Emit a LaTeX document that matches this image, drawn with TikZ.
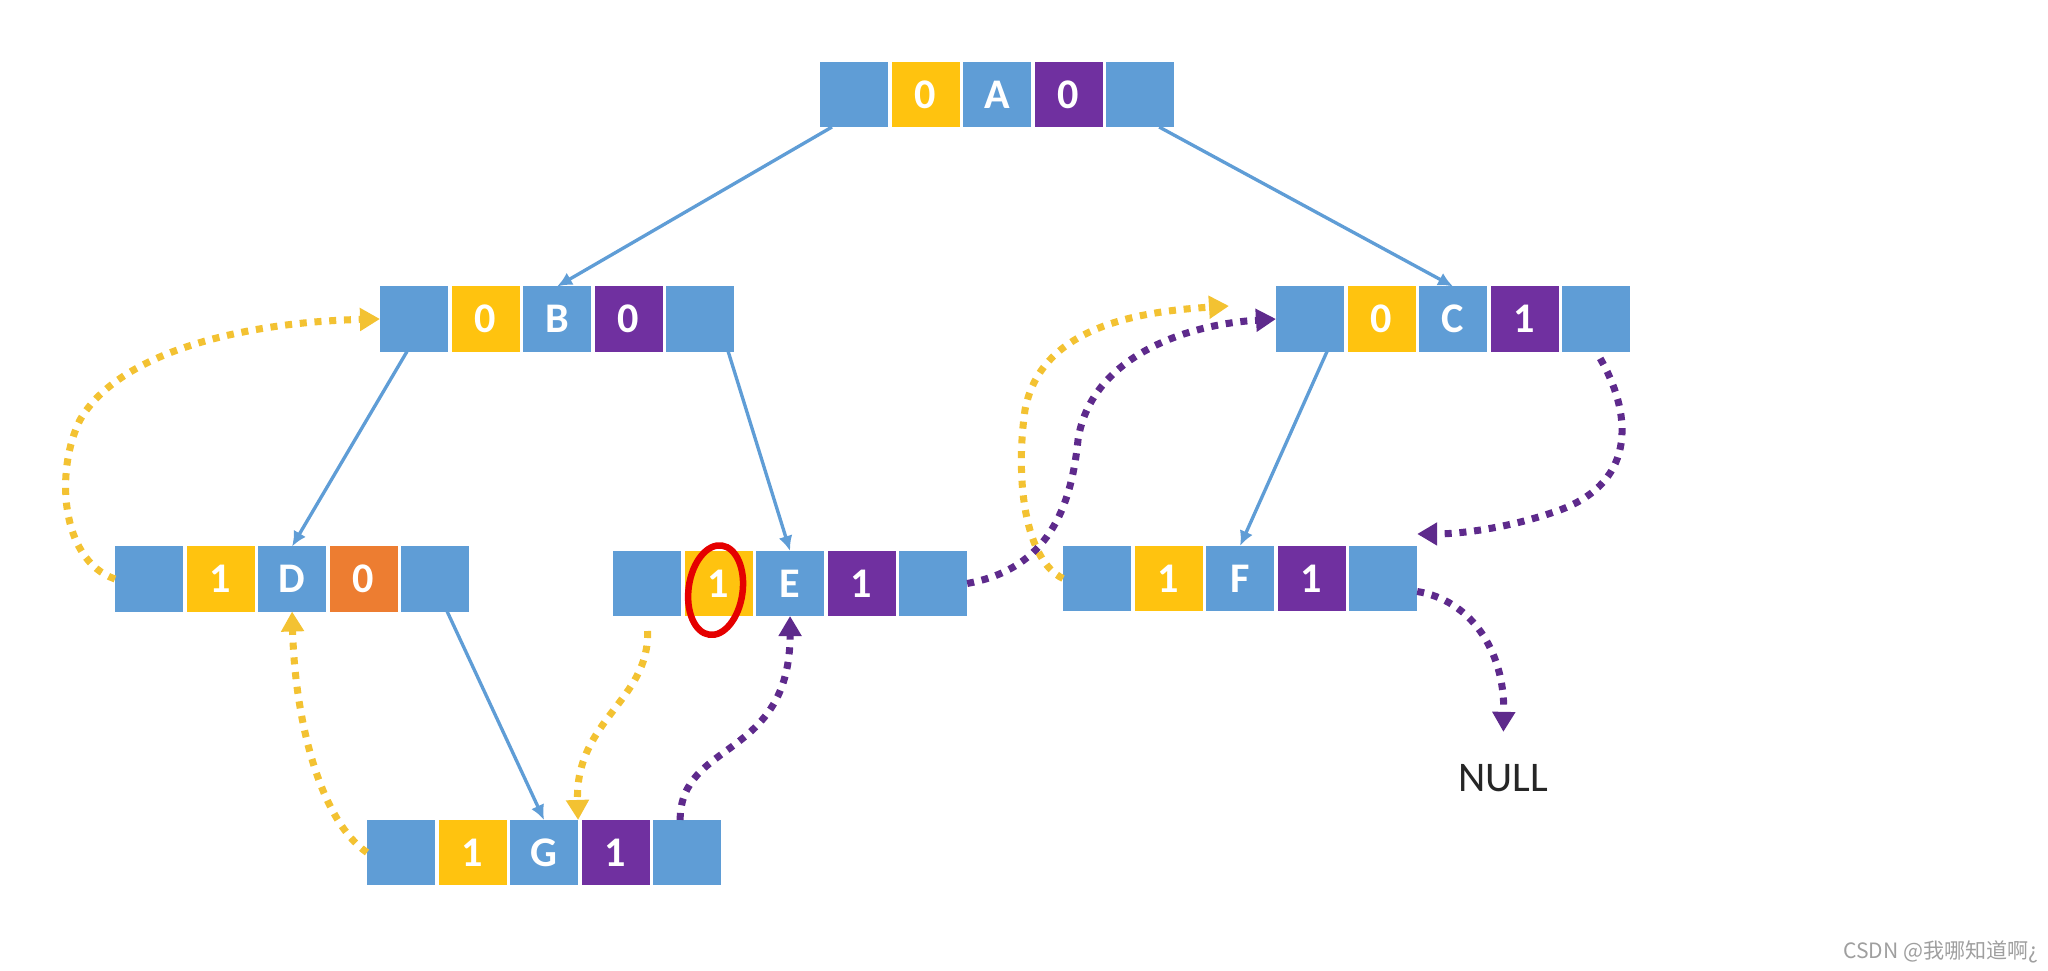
\documentclass[tikz,border=0pt]{standalone}
\usepackage{fontspec}
\setmainfont{Carlito}
\newfontfamily\cjkfont{Noto Sans CJK SC}
\usepackage{tikz}
\usetikzlibrary{arrows.meta, positioning, calc}

\definecolor{cellblue}{HTML}{5F9DD6}
\definecolor{tagyellow}{HTML}{FFC30F}
\definecolor{tagpurple}{HTML}{7030A0}
\definecolor{tagorange}{HTML}{ED7D31}
\definecolor{dotyellow}{HTML}{F3C232}
\definecolor{dotpurple}{HTML}{5E2A8C}

\begin{document}
\begin{tikzpicture}[x=0.01cm,y=-0.01cm,node distance=0.035cm]

	\tikzset{cell/.style={rectangle, minimum width=0.68cm, minimum height=0.65cm,
			inner sep=0, outer sep=0, text=white, font=\bfseries\fontsize{12}{14}\selectfont}}
	\tikzset{cell ptr/.style={cell, fill=cellblue}}
	\tikzset{cell yel/.style={cell, fill=tagyellow}}
	\tikzset{cell pur/.style={cell, fill=tagpurple}}
	\tikzset{cell org/.style={cell, fill=tagorange}}
	\tikzset{tree edge/.style={draw=cellblue, line width=0.95pt,
			-{Latex[length=0.15cm,width=0.14cm]}}}
	\tikzset{thread/.style={line width=2pt, dash pattern=on 2pt off 2.2pt,
			-{Triangle[length=0.2cm,width=0.22cm]}}}
	\tikzset{pred/.style={thread, draw=dotyellow}}
	\tikzset{succ/.style={thread, draw=dotpurple}}

	\useasboundingbox (0,0) rectangle (2048,971);

	% node A
	\node[cell ptr] (A1) at (854,94.5) {};
	\node[cell yel, right=of A1] (A2) {0};
	\node[cell ptr, right=of A2] (A3) {A};
	\node[cell pur, right=of A3] (A4) {0};
	\node[cell ptr, right=of A4] (A5) {};

	% node B
	\node[cell ptr] (B1) at (414,319) {};
	\node[cell yel, right=of B1] (B2) {0};
	\node[cell ptr, right=of B2] (B3) {B};
	\node[cell pur, right=of B3] (B4) {0};
	\node[cell ptr, right=of B4] (B5) {};

	% node C
	\node[cell ptr] (C1) at (1310,319) {};
	\node[cell yel, right=of C1] (C2) {0};
	\node[cell ptr, right=of C2] (C3) {C};
	\node[cell pur, right=of C3] (C4) {1};
	\node[cell ptr, right=of C4] (C5) {};

	% node D
	\node[cell ptr] (D1) at (149,579) {};
	\node[cell yel, right=of D1] (D2) {1};
	\node[cell ptr, right=of D2] (D3) {D};
	\node[cell org, right=of D3] (D4) {0};
	\node[cell ptr, right=of D4] (D5) {};

	% node E
	\node[cell ptr] (E1) at (647,583.5) {};
	\node[cell yel, right=of E1] (E2) {1};
	\node[cell ptr, right=of E2] (E3) {E};
	\node[cell pur, right=of E3] (E4) {1};
	\node[cell ptr, right=of E4] (E5) {};

	% node F
	\node[cell ptr] (F1) at (1097,578.5) {};
	\node[cell yel, right=of F1] (F2) {1};
	\node[cell ptr, right=of F2] (F3) {F};
	\node[cell pur, right=of F3] (F4) {1};
	\node[cell ptr, right=of F4] (F5) {};

	% node G
	\node[cell ptr] (G1) at (401,852.5) {};
	\node[cell yel, right=of G1] (G2) {1};
	\node[cell ptr, right=of G2] (G3) {G};
	\node[cell pur, right=of G3] (G4) {1};
	\node[cell ptr, right=of G4] (G5) {};

	\node[font=\fontsize{12}{14}\selectfont, text=black!85] (null) at (1503,778) {NULL};
	\coordinate (Fpre) at (1229,306);

	% tree links
	\draw[tree edge] ([xshift=-0.22cm]A1.south) -- (B3.north);
	\draw[tree edge] ([xshift=0.19cm]A5.south) -- (C3.north);
	\draw[tree edge] ([xshift=-0.07cm]B1.south) -- (D3.north);
	\draw[tree edge] ([xshift=0.28cm]B5.south) -- (E3.north);
	\draw[tree edge] ([xshift=0.17cm]C1.south) -- (F3.north);
	\draw[tree edge] ([xshift=0.12cm]D5.south) -- (G3.north);

	% threads
	\draw[pred] (D1.west) .. controls (60,560) and (55,470) .. (80,420)
		.. controls (120,350) and (250,322) .. (B1.west);
	\draw[pred] (G1.west) .. controls (320,820) and (295,720) .. (D3.south);
	\draw[pred, shorten <=0.15cm] (E1.south) .. controls (650,700) and (575,720) .. (G3.north east);
	\draw[pred] (F1.west) .. controls (1025,560) and (1015,480) .. (1025,410)
		.. controls (1040,330) and (1130,312) .. (Fpre);
	\draw[succ] ([xshift=-0.07cm]G5.north) .. controls (680,740) and (790,760) .. (E3.south);
	\draw[succ] (E5.east) .. controls (1040,570) and (1070,520) .. (1078,440)
		.. controls (1090,360) and (1180,325) .. (C1.west);
	\draw[succ, shorten <=0.08cm] (C5.south) .. controls (1630,410) and (1640,480) .. (1560,510)
		.. controls (1510,528) and (1460,534) .. ([yshift=0.12cm]F5.north east);
	\draw[succ, shorten >=0.2cm] ([yshift=-0.13cm]F5.east) .. controls (1470,600) and (1505,650) .. (null.north);

	% mark on E
	\draw[red!90!black, line width=0.065cm, rotate around={-8:(E2.center)}]
		($(E2.center)+(-2,7)$) ellipse [x radius=0.27cm, y radius=0.45cm];

	\node[font=\cjkfont\fontsize{6}{7}\selectfont, text=gray!75] (mark) at (1941,952) {CSDN @我哪知道啊¿};
\end{tikzpicture}
\end{document}
